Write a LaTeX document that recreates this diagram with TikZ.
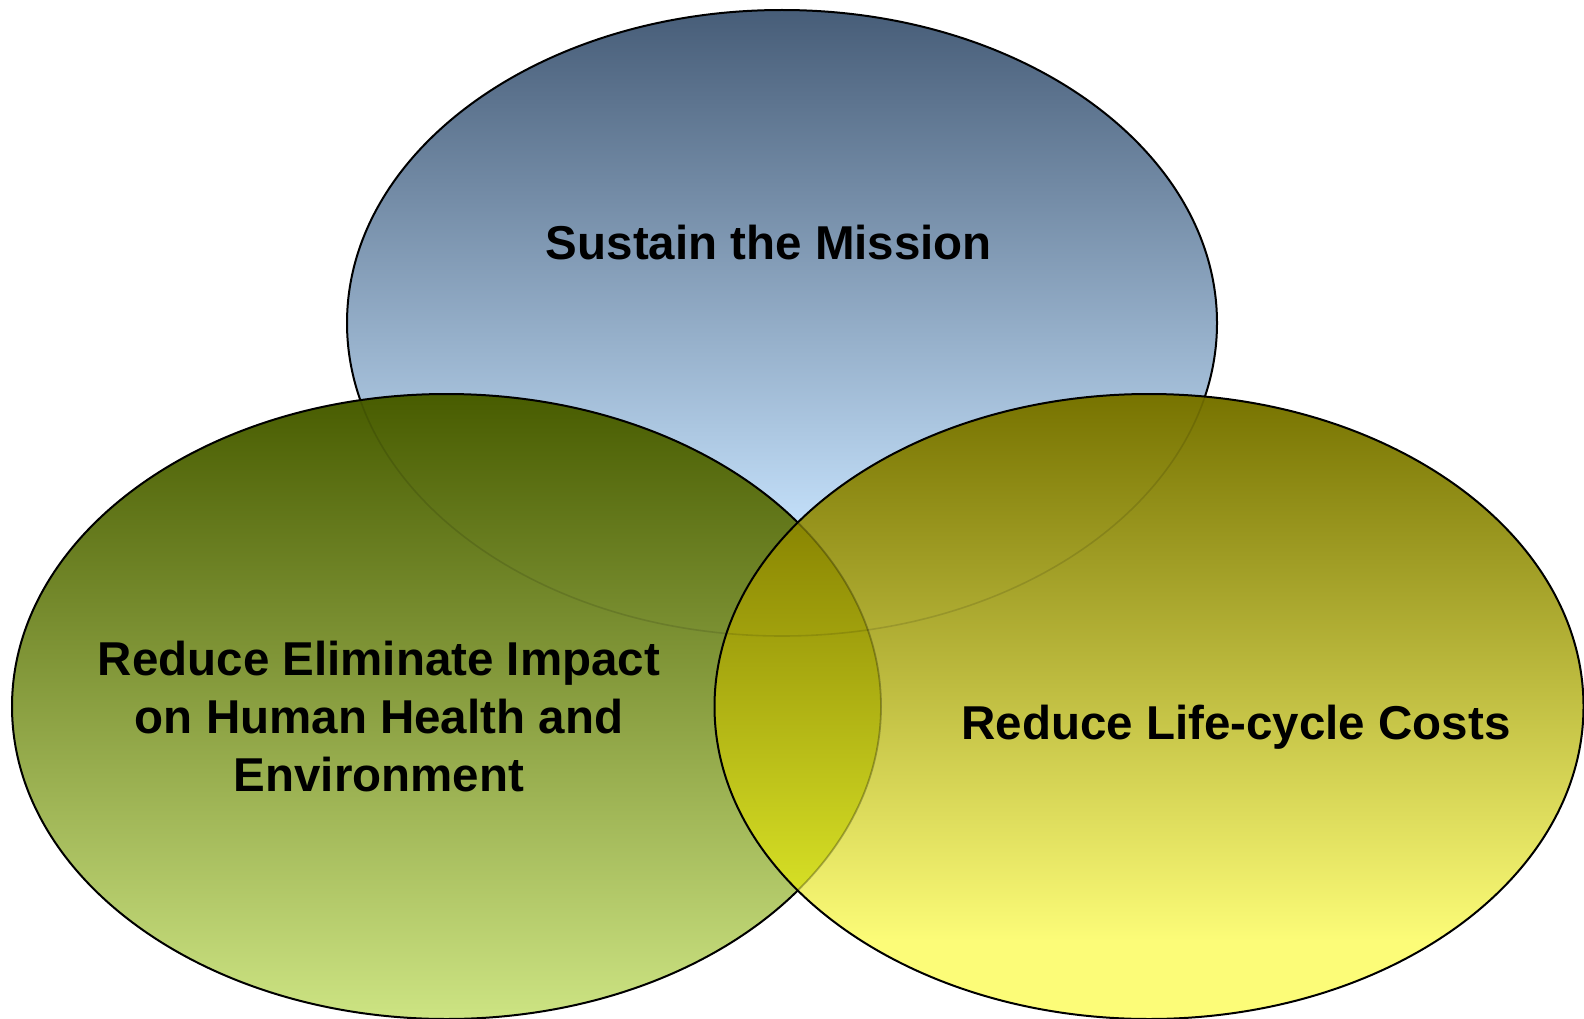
\documentclass[tikz,border=0pt]{standalone}
\usepackage{fontspec}
\setmainfont{Liberation Sans}
\definecolor{blueT}{HTML}{475D78}
\definecolor{blueB}{HTML}{C2DEF8}
\definecolor{greenT}{HTML}{485C00}
\definecolor{greenM}{HTML}{93B03A}
\definecolor{greenB}{HTML}{CDE483}
\definecolor{yelT}{HTML}{777300}
\definecolor{yelM}{HTML}{CBC735}
\definecolor{yelB}{HTML}{FCFC78}
\definecolor{lensT}{HTML}{858000}
\definecolor{lensM}{HTML}{BCBE10}
\definecolor{lensB}{HTML}{DCE628}
\begin{document}
\begin{tikzpicture}[x=1pt,y=-1pt,
  outline/.style={draw=black,line width=2pt},
  faint/.style={draw=black,line width=1.6pt,draw opacity=0.12},
  faintB/.style={draw=black,line width=1.8pt,draw opacity=0.28},
  lbl/.style={font=\fontsize{47.5}{58}\selectfont\bfseries,text=black,align=center,inner sep=0pt}]
\useasboundingbox (0,0) rectangle (1584,1019);
\coordinate (cT) at (782,323);
\coordinate (cL) at (446.5,706.5);
\coordinate (cR) at (1149,706.5);
% top ellipse
\begin{scope}
  \clip (cT) ellipse [x radius=435, y radius=313];
  \shade[top color=blueT, bottom color=blueB] (340,10) rectangle (1225,521);
  \fill[blueB] (340,520) rectangle (1225,640);
\end{scope}
\draw[outline] (cT) ellipse [x radius=435, y radius=313];
% left ellipse
\begin{scope}
  \clip (cL) ellipse [x radius=434.5, y radius=312.5];
  \shade[top color=greenT, middle color=greenM, bottom color=greenB] (0,393) rectangle (890,1020);
  \draw[faint] (cT) ellipse [x radius=435, y radius=313];
\end{scope}
\draw[outline] (cL) ellipse [x radius=434.5, y radius=312.5];
% right ellipse
\begin{scope}
  \clip (cR) ellipse [x radius=434.5, y radius=312.5];
  \shade[top color=yelT, middle color=yelM, bottom color=yelB] (700,393) rectangle (1590,941);
  \fill[yelB] (700,940) rectangle (1590,1020);
  \begin{scope}
    \clip (cL) ellipse [x radius=434.5, y radius=312.5];
    \shade[top color=lensT, middle color=lensM, bottom color=lensB] (700,500) rectangle (900,920);
  \end{scope}
  \draw[faint] (cT) ellipse [x radius=435, y radius=313];
  \draw[faintB] (cL) ellipse [x radius=434.5, y radius=312.5];
\end{scope}
\draw[outline] (cR) ellipse [x radius=434.5, y radius=312.5];
% labels
\node[lbl, anchor=base] (mission) at (769,259) {Sustain the Mission};
\node[lbl] (health) at (379,717) {Reduce Eliminate Impact\\on Human Health and\\Environment};
\node[lbl, anchor=base] (costs) at (1236,739) {Reduce Life-cycle Costs};
\end{tikzpicture}
\end{document}
